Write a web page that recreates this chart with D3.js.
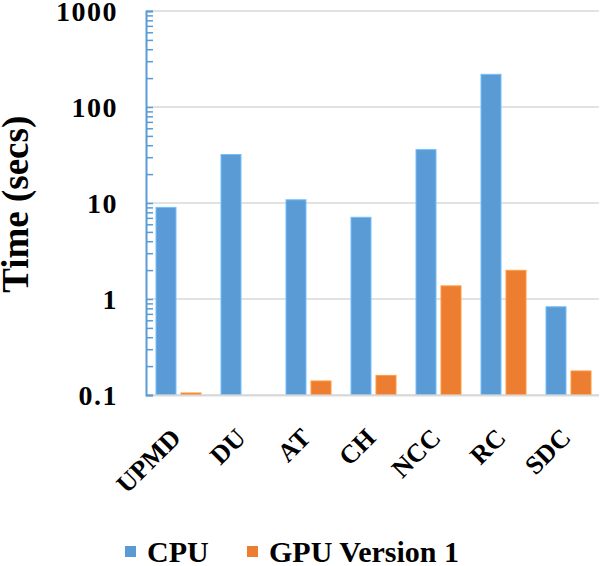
<!DOCTYPE html>
<html>
<head>
<meta charset="utf-8">
<script src="https://cdn.jsdelivr.net/npm/d3@7"></script>
<style>
  body { margin: 0; background: #fff; }
  #wrap { position: relative; width: 600px; height: 566px; }
  #wrap svg { position: absolute; left: 0; top: 0; }
  #wrap div.lbl {
    position: absolute;
    white-space: nowrap;
    font-family: "Liberation Serif", Tinos, "Times New Roman", serif;
    font-weight: bold;
    color: #000;
  }
</style>
</head>
<body>
<div id="wrap"><svg id="chart" width="600" height="566"></svg></div>
<script>
// Data
var categories = ["UPMD", "DU", "AT", "CH", "NCC", "RC", "SDC"];
var cpuTimes = [9.0, 32, 10.8, 7.1, 36, 219, 0.83];
var gpuTimes = [0.105, null, 0.14, 0.16, 1.37, 1.99, 0.178];
var seriesNames = ["CPU", "GPU Version 1"];
var yTicks = [0.1, 1, 10, 100, 1000];

var colors = { "CPU": "#5b9bd5", "GPU Version 1": "#ed7d31" };

var svg = d3.select("#chart");
var wrap = d3.select("#wrap");
var plot = { left: 146, right: 599, top: 11, bottom: 395 };

var x = d3.scaleBand()
    .domain(categories)
    .range([plot.left, plot.left + 65 * categories.length]);

var xInner = d3.scaleBand()
    .domain(seriesNames)
    .range([0, x.bandwidth()])
    .paddingInner(0.2)
    .paddingOuter(0.4);

var y = d3.scaleLog()
    .domain([0.1, 1000])
    .range([plot.bottom, plot.top]);

// text goes in html divs; baseline sits at (px, py)
var LH = 0.8;
var ASC = (LH - 1.107) / 2 + 0.891;
function addLabels(cls, data, opts) {
    var shift = opts.anchor == "end" ? "-100%" : opts.anchor == "middle" ? "-50%" : "0";
    return wrap.selectAll("div." + cls)
        .data(data)
        .enter()
        .append("div")
        .attr("class", "lbl " + cls)
        .attr("style", d =>
            "font-size:" + opts.size + "px;line-height:" + (LH * opts.size) + "px;" +
            "letter-spacing:" + (opts.spacing || 0) + "px;" +
            "left:" + opts.x(d) + "px;" +
            "top:" + (opts.y(d) - ASC * opts.size) + "px;" +
            "transform-origin: 0 " + (ASC * opts.size) + "px;" +
            "transform: rotate(" + (opts.rotate || 0) + "deg) translate(" + shift + ",0);")
        .text(opts.text);
}

// gridlines at each decade
svg.append("g")
    .selectAll("line")
    .data(yTicks)
    .enter()
    .append("line")
    .attr("x1", plot.left)
    .attr("x2", plot.right)
    .attr("y1", d => y(d))
    .attr("y2", d => y(d))
    .attr("stroke", "#d9d9d9")
    .attr("stroke-width", 1.5);

// bars
var rows = categories.map((c, i) => ({
    cat: c,
    values: [{ s: "CPU", v: cpuTimes[i] }, { s: "GPU Version 1", v: gpuTimes[i] }]
}));

svg.append("g")
    .selectAll("g")
    .data(rows)
    .enter()
    .append("g")
    .attr("transform", d => "translate(" + x(d.cat) + ",0)")
    .selectAll("rect")
    .data(d => d.values.filter(p => p.v != null))
    .enter()
    .append("rect")
    .attr("x", d => xInner(d.s))
    .attr("width", xInner.bandwidth())
    .attr("y", d => y(d.v))
    .attr("height", d => plot.bottom - y(d.v))
    .attr("fill", d => colors[d.s])
    .attr("stroke", d => d3.color(colors[d.s]).brighter(0.6))
    .attr("stroke-width", 1);

// bottom axis line
svg.append("line")
    .attr("x1", plot.left)
    .attr("x2", plot.right)
    .attr("y1", plot.bottom + 0.5)
    .attr("y2", plot.bottom + 0.5)
    .attr("stroke", "#d9d9d9")
    .attr("stroke-width", 2);

// y axis: blue line with inward minor ticks
var yAxis = d3.axisRight(y)
    .tickValues(y.ticks())
    .tickSize(7)
    .tickFormat("");

var yg = svg.append("g")
    .attr("transform", "translate(" + plot.left + ",0)")
    .call(yAxis);
yg.select(".domain").attr("stroke", "#5b9bd5").attr("stroke-width", 2);
yg.selectAll(".tick line").attr("stroke", "#5b9bd5").attr("stroke-width", 1.5);

// y tick labels
addLabels("ytick", yTicks, {
    size: 28,
    spacing: 1.5,
    x: d => 118,
    y: d => y(d) + 11,
    anchor: "end",
    text: d => d3.format("~g")(d)
});

// x labels, rotated
addLabels("xtick", categories, {
    size: 26,
    x: d => x(d) + x.bandwidth() / 2 + 4,
    y: d => 440,
    anchor: "end",
    rotate: -45,
    text: d => d
});

// y title
addLabels("ytitle", ["Time (secs)"], {
    size: 37,
    x: d => 28,
    y: d => 204,
    anchor: "middle",
    rotate: -90,
    text: d => d
});

// legend
var legendX = [125, 247];
svg.append("g")
    .selectAll("rect")
    .data(seriesNames)
    .enter()
    .append("rect")
    .attr("x", (d, i) => legendX[i])
    .attr("y", 546)
    .attr("width", 11)
    .attr("height", 11)
    .attr("fill", d => colors[d]);

addLabels("legend", seriesNames, {
    size: 30,
    x: d => legendX[seriesNames.indexOf(d)] + 22,
    y: d => 562,
    text: d => d
});
</script>
</body>
</html>
